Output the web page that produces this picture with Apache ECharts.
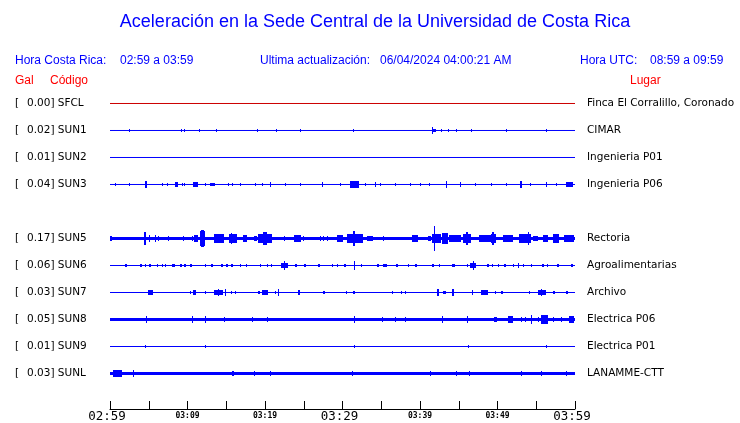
<!DOCTYPE html>
<html><head><meta charset="utf-8">
<script src="https://cdn.jsdelivr.net/npm/echarts@6/dist/echarts.min.js"></script>
<style>html,body{margin:0;padding:0;background:#fff}#c{width:740px;height:423px}</style>
</head><body><div id="c"></div>
<script>
// ---- data ----
const stations = ['SFCL','SUN1','SUN2','SUN3','SUN5','SUN6','SUN7','SUN8','SUN9','SUNL'];
const rowIndex = [0,1,2,3,5,6,7,8,9,10];
const peakGal = ['0.00','0.02','0.01','0.04','0.17','0.06','0.03','0.05','0.01','0.03'];
const places = ['Finca El Corralillo, Coronado','CIMAR','Ingenieria P01','Ingenieria P06','Rectoria','Agroalimentarias','Archivo','Electrica P06','Electrica P01','LANAMME-CTT'];
const timeLabels = ['02:59','03:09','03:19','03:29','03:39','03:49','03:59']; // every 10 minutes
// bursts: [start minute, end minute, relative half-amplitude (1 = half row)]
const burstsSFCL = [];
const burstsSUN1 = [[2.45,2.5,0.11],[9.2,9.25,0.11],[9.55,9.6,0.11],[11.5,11.55,0.11],[13.7,13.75,0.07],[19.0,19.05,0.07],[21.45,21.5,0.07],[24.55,24.6,0.07],[31.4,31.45,0.07],[41.5,42.1,0.11],[41.6,41.7,0.22],[42.65,42.7,0.11],[43.55,43.6,0.11],[44.6,44.65,0.07],[46.55,46.6,0.07],[51.1,51.15,0.07],[56.25,56.3,0.07]];
const burstsSUN2 = [];
const burstsSUN3 = [[0.6,0.65,0.07],[2.4,2.5,0.11],[4.5,4.8,0.19],[6.7,6.75,0.11],[7.35,7.4,0.11],[8.4,8.8,0.15],[9.3,9.35,0.11],[9.55,9.6,0.11],[10.7,11.4,0.15],[12.25,12.35,0.11],[12.9,13.6,0.11],[15.2,15.3,0.11],[15.75,15.8,0.11],[16.8,16.9,0.11],[18.7,18.8,0.11],[19.6,19.7,0.11],[20.65,20.75,0.15],[22.6,22.7,0.11],[24.55,24.65,0.11],[27.35,27.5,0.15],[29.7,29.8,0.11],[31.0,32.1,0.19],[31.4,31.6,0.24],[32.95,33.05,0.11],[34.2,34.35,0.15],[34.85,34.9,0.11],[36.8,36.9,0.11],[38.75,38.85,0.11],[40.05,40.15,0.11],[41.1,41.2,0.11],[43.3,43.5,0.19],[45.2,45.35,0.15],[47.15,47.25,0.11],[49.1,49.2,0.11],[51.05,51.15,0.11],[52.9,53.1,0.19],[54.25,54.35,0.11],[56.2,56.35,0.15],[57.5,57.6,0.11],[58.8,59.7,0.15]];
const burstsSUN5 = [[0.0,0.3,0.15],[4.4,4.7,0.44],[5.0,5.1,0.2],[5.8,5.9,0.2],[6.2,6.3,0.15],[7.5,7.6,0.15],[9.4,9.5,0.15],[10.6,10.7,0.15],[10.9,11.4,0.22],[11.6,12.3,0.5],[11.8,12.1,0.56],[13.4,14.7,0.26],[15.3,16.4,0.3],[15.6,15.7,0.4],[17.1,17.7,0.22],[18.6,19.0,0.15],[19.1,20.9,0.3],[19.7,20.2,0.44],[22.4,22.5,0.15],[23.7,24.6,0.19],[24.9,25.0,0.15],[27.1,27.2,0.15],[27.5,27.6,0.15],[28.0,28.1,0.15],[29.3,30.1,0.22],[30.6,32.6,0.3],[31.3,31.6,0.52],[33.2,33.9,0.15],[35.2,35.3,0.15],[39.0,39.7,0.22],[41.0,41.4,0.15],[41.6,42.7,0.3],[41.85,41.95,0.89],[42.8,43.6,0.37],[43.7,45.3,0.22],[45.5,46.6,0.3],[45.9,46.2,0.44],[47.6,49.1,0.22],[49.1,49.8,0.3],[49.3,49.5,0.44],[50.7,52.0,0.22],[52.8,54.3,0.26],[53.9,54.0,0.44],[54.6,55.2,0.15],[55.9,56.5,0.22],[57.2,57.9,0.3],[58.6,59.9,0.19]];
const burstsSUN6 = [[1.9,2.15,0.11],[3.85,4.1,0.11],[4.5,4.6,0.07],[5.0,5.25,0.11],[6.05,6.15,0.07],[6.7,6.8,0.07],[7.1,7.2,0.07],[8.0,8.4,0.11],[9.0,9.25,0.11],[9.55,9.8,0.11],[10.3,10.55,0.11],[12.25,12.35,0.07],[13.0,13.25,0.11],[14.3,14.55,0.11],[15.0,15.25,0.11],[15.6,15.85,0.11],[16.8,16.9,0.07],[17.55,17.6,0.05],[19.4,19.45,0.05],[20.3,20.4,0.07],[20.8,20.9,0.07],[22.0,23.0,0.15],[22.4,22.6,0.33],[23.9,24.15,0.11],[25.05,25.3,0.11],[26.9,27.15,0.11],[28.7,28.8,0.07],[29.35,29.45,0.07],[30.2,30.45,0.11],[31.5,31.65,0.26],[32.45,32.55,0.07],[34.5,34.75,0.11],[35.2,35.7,0.11],[36.95,37.2,0.11],[38.5,38.6,0.07],[39.3,39.55,0.11],[41.5,41.75,0.11],[42.4,42.5,0.07],[44.1,44.5,0.11],[46.0,46.1,0.07],[46.5,47.2,0.15],[46.8,46.95,0.3],[48.6,48.85,0.11],[49.25,49.35,0.07],[50.0,50.1,0.07],[50.8,51.05,0.11],[51.95,52.05,0.07],[52.6,52.75,0.15],[53.25,53.35,0.07],[54.3,54.35,0.05],[55.7,55.95,0.11],[56.35,56.45,0.07],[57.65,57.9,0.11],[59.45,59.7,0.11]];
const burstsSUN7 = [[4.9,5.6,0.15],[10.35,10.5,0.11],[10.7,11.1,0.15],[12.28,12.35,0.05],[13.45,14.6,0.15],[13.9,14.1,0.19],[14.8,15.0,0.22],[15.65,15.7,0.05],[16.1,16.2,0.11],[19.1,19.3,0.11],[19.66,20.43,0.15],[21.3,21.4,0.07],[21.7,21.8,0.19],[24.2,24.5,0.15],[27.5,27.7,0.11],[30.45,30.6,0.11],[31.3,31.35,0.05],[31.5,31.6,0.07],[36.45,36.5,0.07],[37.6,37.7,0.11],[38.0,38.05,0.07],[42.2,42.4,0.22],[43.0,43.3,0.11],[44.1,44.4,0.22],[46.7,46.9,0.15],[47.85,48.75,0.15],[49.65,49.7,0.07],[50.5,50.7,0.11],[54.0,54.1,0.07],[55.2,56.25,0.15],[55.6,55.8,0.22],[57.2,57.4,0.11],[58.9,59.1,0.11]];
const burstsSUN8 = [[4.6,4.75,0.19],[10.6,10.65,0.19],[12.25,12.35,0.22],[14.7,14.8,0.17],[18.3,18.4,0.17],[20.3,20.35,0.17],[31.5,31.6,0.22],[35.15,35.2,0.17],[36.8,36.9,0.17],[38.1,38.2,0.17],[42.9,43.0,0.2],[46.1,46.2,0.22],[49.5,49.9,0.17],[51.3,52.0,0.22],[53.0,53.1,0.17],[53.6,53.7,0.17],[54.35,54.5,0.3],[55.2,55.3,0.17],[55.6,56.5,0.26],[55.9,56.1,0.33],[57.1,57.2,0.17],[58.2,58.25,0.17],[59.2,59.9,0.22]];
const burstsSUN9 = [[4.5,4.55,0.11],[12.25,12.3,0.07],[31.5,31.55,0.11],[46.15,46.2,0.11],[56.2,56.25,0.07]];
const burstsSUNL = [[0.4,1.5,0.19],[2.95,3.0,0.19],[15.7,16.0,0.17],[18.6,18.7,0.17],[20.7,20.75,0.15],[31.25,31.35,0.17],[41.35,41.4,0.15],[44.6,44.65,0.15],[46.3,46.35,0.15],[53.0,53.05,0.17],[55.6,55.65,0.15],[58.8,58.9,0.17]];
const allBursts = [burstsSFCL,burstsSUN1,burstsSUN2,burstsSUN3,burstsSUN5,burstsSUN6,burstsSUN7,burstsSUN8,burstsSUN9,burstsSUNL];

// ---- styles ----
const baseWidth = [1,1,1,1,3,1,1,3,1,3];
const traceColor = ['#cc0000','#0000ff','#0000ff','#0000ff','#0000ff','#0000ff','#0000ff','#0000ff','#0000ff','#0000ff'];
const BLUE = '#0000ff', RED = '#ff0000';

const chart = echarts.init(document.getElementById('c'), null, {renderer:'canvas'});

const series = [];
stations.forEach((s, i) => {
  const r = rowIndex[i];
  series.push({
    type:'line', name:s+'_base', data:[[0,r],[60,r]], symbol:'none', silent:true,
    lineStyle:{color:traceColor[i], width:baseWidth[i]}, animation:false, z:2
  });
  series.push({
    type:'custom', name:s, silent:true, animation:false, z:3,
    data: allBursts[i].map(b => [b[0], b[1], b[2], r]),
    renderItem: function(params, api){
      const t0 = api.value(0), t1 = api.value(1), a = api.value(2), rr = api.value(3);
      const p0 = api.coord([t0, rr - a*0.5]);
      const p1 = api.coord([t1, rr + a*0.5]);
      const x0 = Math.round(p0[0]);
      const x1 = Math.max(x0 + 1, Math.round(p1[0]));
      const y0 = Math.floor(Math.min(p0[1], p1[1]));
      const y1 = Math.ceil(Math.max(p0[1], p1[1]));
      return {type:'rect', shape:{x:x0, y:y0, width:x1-x0, height:y1-y0}, style:{fill:traceColor[i]}};
    }
  });
});

const option = {
  animation:false,
  grid:{left:110, width:465, top:76, height:333},
  xAxis:{type:'value', min:0, max:60, interval:5,
    axisLine:{onZero:false, lineStyle:{color:'#000', width:1}},
    axisTick:{inside:true, length:8, lineStyle:{color:'#000'}},
    splitLine:{show:false},
    axisLabel:{showMinLabel:true, showMaxLabel:true, margin:1, color:'#000',
      formatter:function(v){ if (v % 10 !== 0) return ''; const t = timeLabels[v/10]; return (v % 30 === 0 ? '{b|' : '{s|') + t + '}'; },
      rich:{ b:{fontFamily:'DejaVu Sans Mono', fontSize:12.5, color:'#000', padding:[0,6,0,0]}, s:{fontFamily:'DejaVu Sans Mono', fontWeight:'bold', fontSize:8, color:'#000', padding:[2,0,0,0]} }
    }
  },
  // half-pixel offset keeps 1px traces crisp
  yAxis:{type:'value', min:-1.0185, max:11.3148, inverse:true, show:false, splitLine:{show:false}},
  series: series
};
chart.setOption(option);

const hdr = (text, x, y, color, size, align) => ({type:'text', x:x, y:y, silent:true,
  style:{text:text, fill:color, font: (size||12)+'px "Liberation Sans", Arial, sans-serif', textAlign:align||'left', textVerticalAlign:'middle'}});
const graphics = [
  hdr('Aceleración en la Sede Central de la Universidad de Costa Rica', 375, 22, BLUE, 18, 'center'),
  hdr('Hora Costa Rica:', 15, 60.5, BLUE), hdr('02:59 a 03:59', 120, 60.5, BLUE),
  hdr('Ultima actualización:', 260, 60.5, BLUE), hdr('06/04/2024 04:00:21 AM', 380, 60.5, BLUE),
  hdr('Hora UTC:', 580, 60.5, BLUE), hdr('08:59 a 09:59', 650, 60.5, BLUE),
  hdr('Gal', 15, 80.5, RED), hdr('Código', 50, 80.5, RED), hdr('Lugar', 630, 80.5, RED)
];
const lab = (text, x, y) => ({type:'text', x:x, y:y, silent:true,
  style:{text:text, fill:'#000', font:'10.5px "DejaVu Sans", sans-serif', textAlign:'left', textVerticalAlign:'middle'}});
stations.forEach((s, i) => {
  const y = chart.convertToPixel({gridIndex:0}, [0, rowIndex[i]])[1];
  graphics.push(lab('[', 15, y));
  graphics.push(lab(peakGal[i] + '] ' + s, 27, y));
  graphics.push(lab(places[i], 587, y));
});
chart.setOption({graphic: graphics});
</script></body></html>
